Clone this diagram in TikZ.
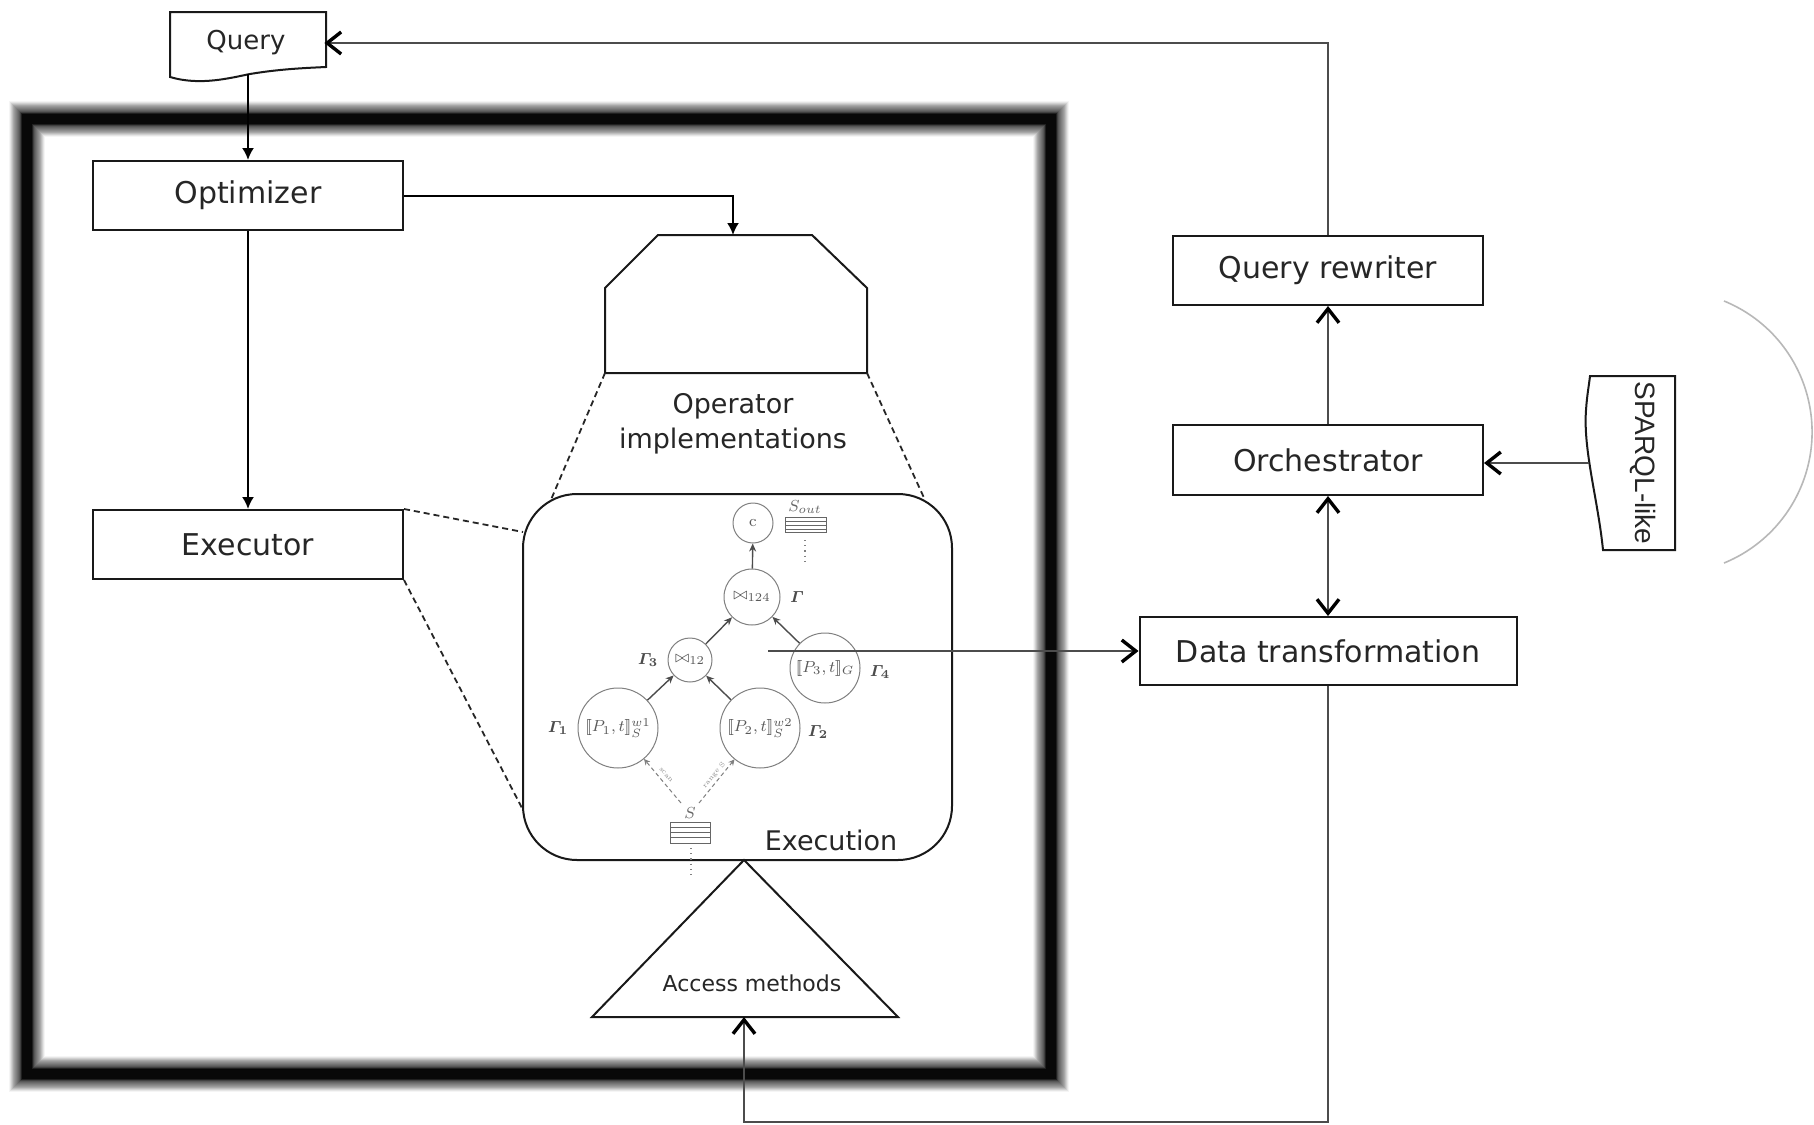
\documentclass[tikz,border=0pt]{standalone}
\usepackage{amsmath}
\usepackage{fontspec}
\newfontfamily\dejavu{DejaVu Sans}
\newfontfamily\arialfont{Liberation Sans}
\usetikzlibrary{arrows.meta}

\begin{document}
\begin{tikzpicture}[x=0.5pt,y=-0.5pt,
  box/.style={draw=black!90, line width=1pt, fill=white, inner sep=0pt,
    font=\dejavu\fontsize{15}{18}\selectfont, text=black!85,
    minimum width=155pt, minimum height=34.5pt},
  shapeline/.style={draw=black!90, line width=1pt, fill=white},
  fillarrow/.style={draw=black, line width=1pt, -{Latex[length=6pt,width=6pt]}},
  openarrow/.style={draw=black!70, line width=1pt,
    -{Straight Barb[length=7pt,width=11pt,line width=1.7pt,color=black]}},
  openboth/.style={draw=black!70, line width=1pt,
    {Straight Barb[length=7pt,width=11pt,line width=1.7pt,color=black]}-{Straight Barb[length=7pt,width=11pt,line width=1.7pt,color=black]}},
  dashlink/.style={draw=black!85, line width=0.9pt, dash pattern=on 3pt off 2pt},
  gnode/.style={circle, draw=black!50, line width=0.5pt, inner sep=0pt,
    text=black!65, font=\fontsize{8}{9}\selectfont},
  garrow/.style={draw=black!70, line width=0.7pt, -{Stealth[length=4pt,width=3.5pt]}},
  gdash/.style={draw=black!50, line width=0.5pt, dash pattern=on 2pt off 1.5pt,
    -{Stealth[length=3pt,width=3pt]}},
  glabel/.style={text=black!70, inner sep=0pt, font=\fontsize{8}{9}\selectfont\boldmath},
  gstack/.style={draw=black!60, line width=0.5pt},
  tinytext/.style={text=black!45, inner sep=0pt, font=\fontsize{3.5}{4}\selectfont},
]
\useasboundingbox (0,0) rectangle (1814,1124);
\fill[white] (0,0) rectangle (1814,1124);

% heavy soft-edged frame around the engine
\foreach \w/\c in {18/4,17/10,16/18,15/26,14/34,13/40,12/45,11/50,
                   10/55,9/60,8/66,7/75,6/88,5/97}
  \draw[line width=\w pt, black!\c] (27,119) rectangle (1051,1074);

% query document
\draw[shapeline] (170,12) -- (326,12) -- (326,67)
  .. controls (305,68) and (280,69) .. (250,74)
  .. controls (230,78) and (200,86) .. (170,77) -- cycle;
\node[minimum width=78pt, minimum height=31pt, inner sep=0pt,
  font=\dejavu\fontsize{13}{15}\selectfont, text=black!85] (query) at (246,43) {Query};

% left column
\node[box] (opt) at (248,195.5) {Optimizer};
\node[box] (exe) at (248,544.5) {Executor};

% operator implementations block
\draw[shapeline] (658,235) -- (812,235) -- (867,288) -- (867,373)
  -- (605,373) -- (605,288) -- cycle;
\coordinate (optop) at (733,235);
\coordinate (opbl) at (605,373);
\coordinate (opbr) at (867,373);
\node[align=center, font=\dejavu\fontsize{13.5}{17.5}\selectfont, text=black!85]
  (opimpl) at (733,424) {Operator\\implementations};

% zoom lines onto the execution panel
\coordinate (exTL) at (550,502);
\coordinate (exTR) at (925,500);
\coordinate (exL1) at (523,532);
\coordinate (exL2) at (523,810);
\draw[dashlink] (opbl) -- (exTL);
\draw[dashlink] (opbr) -- (exTR);
\draw[dashlink] (exe.north east) -- (exL1);
\draw[dashlink] (exe.south east) -- (exL2);

% execution panel
\node[draw=black!90, line width=1pt, rounded corners=27pt, fill=white,
  minimum width=214.5pt, minimum height=183pt] (exec) at (737.5,677) {};
\node[font=\dejavu\fontsize{13.5}{16}\selectfont, text=black!85] (execlbl) at (831,840) {Execution};

% access methods
\draw[shapeline] (744,860) -- (898,1017) -- (592,1017) -- cycle;
\node[font=\dejavu\fontsize{11}{13}\selectfont, text=black!85] (am) at (752,983) {Access methods};
\coordinate (ambase) at (744,1017);

% plan graph inside the execution panel
\node[gnode, minimum size=20pt] (cn) at (753,523) {c};
\node[gnode, minimum size=28pt] (j124) at (752,597) {$\bowtie_{124}$};
\node[gnode, minimum size=22pt] (j12) at (690,660) {$\bowtie_{12}$};
\node[gnode, minimum size=35pt] (p3) at (825,668) {$[\![P_3,t]\!]_G$};
\node[gnode, minimum size=40pt] (p1) at (618,728) {$[\![P_1,t]\!]^{w1}_S$};
\node[gnode, minimum size=40pt] (p2) at (760,728) {$[\![P_2,t]\!]^{w2}_S$};
\draw[garrow] (p1) -- (j12);
\draw[garrow] (p2) -- (j12);
\draw[garrow] (j12) -- (j124);
\draw[garrow] (p3) -- (j124);
\draw[garrow] (j124) -- (cn);
\node[glabel] (g0) at (797,597) {$\varGamma$};
\node[glabel] (g3) at (648,660) {$\varGamma_3$};
\node[glabel] (g4) at (880,672) {$\varGamma_4$};
\node[glabel] (g1) at (558,728) {$\varGamma_1$};
\node[glabel] (g2) at (818,732) {$\varGamma_2$};

% output stream
\node[text=black!60, inner sep=0pt, font=\fontsize{8}{9}\selectfont] (sout) at (805,507) {$S_{out}$};
\draw[gstack] (785,517) rectangle (826,532)
  (785,521) -- (826,521) (785,525) -- (826,525) (785,529) -- (826,529);
\draw[black!50, dotted, line width=0.6pt] (805,540) -- (805,565);

% input stream
\node[text=black!60, inner sep=0pt, font=\fontsize{8}{9}\selectfont] (sin) at (690,813) {$S$};
\draw[gstack] (670,822) rectangle (710,843)
  (670,827) -- (710,827) (670,832) -- (710,832) (670,837) -- (710,837);
\draw[black!50, dotted, line width=0.6pt] (691,848) -- (691,876);
\coordinate (sl) at (681,803);
\coordinate (sr) at (699,803);
\draw[gdash] (sl) -- (p1);
\draw[gdash] (sr) -- (p2);
\node[tinytext, rotate=-50] (scanlbl) at (666,775) {scan};
\node[tinytext, rotate=50] (rangelbl) at (714,775) {range S};

% right column
\node[box] (qrw) at (1328,270.5) {Query rewriter};
\node[box, minimum height=35pt] (orch) at (1328,460) {Orchestrator};
\node[box, minimum width=188.5pt, minimum height=34pt] (dt) at (1328,651) {Data transformation};

% SPARQL-like document
\draw[shapeline] (1590,376) -- (1675,376) -- (1675,550) -- (1603,550)
  .. controls (1598,500) and (1583,450) .. (1586,410)
  .. controls (1587,395) and (1589,385) .. (1590,376) -- cycle;
\node[rotate=-90, font=\arialfont\fontsize{14}{16}\selectfont, text=black!85]
  (sparqltxt) at (1643,463) {SPARQL-like};
\node[minimum width=42.5pt, minimum height=87pt, inner sep=0pt] (sparql) at (1632,463) {};
\draw[black!28, line width=0.8pt] (1724,301) arc[start angle=67.8, end angle=-67.8, radius=70.75pt];

% connectors
\draw[fillarrow] (query.south -| opt.north) -- (opt.north);
\draw[fillarrow] (opt) -- (exe);
\draw[fillarrow] (opt.east) -| (optop);
\draw[openarrow] (orch) -- (qrw);
\draw[openboth] (orch) -- (dt);
\draw[openarrow] (qrw.north) |- (query.east);
\draw[openarrow] (sparql.west) -- (sparql.west -| orch.east);
\coordinate (gout) at (768,651);
\draw[openarrow] (gout) -- (dt.west);
\coordinate (turn) at (1328,1122);
\draw[openarrow] (dt.south) -- (turn) -| (ambase);
\end{tikzpicture}
\end{document}
